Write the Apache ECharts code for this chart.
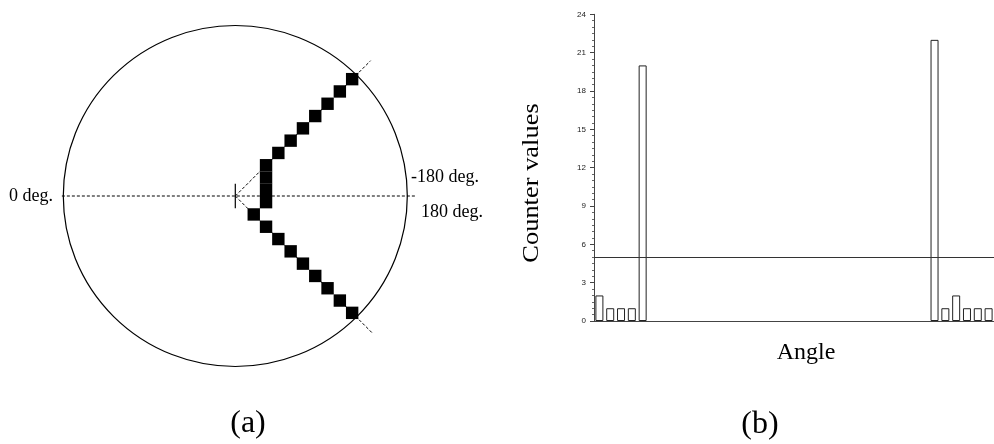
<!DOCTYPE html>
<html>
<head>
<meta charset="utf-8">
<script src="https://cdn.jsdelivr.net/npm/echarts@6/dist/echarts.min.js"></script>
<style>
  html, body { margin: 0; padding: 0; background: #fff; }
  #chart { width: 994px; height: 444px; }
</style>
</head>
<body>
<div id="chart"></div>
<script>
// (a) accumulator cells, in cell units with the origin at the cross
const upperArm = [[2.5, 2.5], [3.5, 3.5], [4.5, 4.5], [5.5, 5.5], [6.5, 6.5], [7.5, 7.5], [8.5, 8.5], [9.5, 9.5]];
const columnCells = [[2.5, 1.5], [2.5, 0.5], [2.5, -0.5]];
const lowerArm = [[1.5, -1.5], [2.5, -2.5], [3.5, -3.5], [4.5, -4.5], [5.5, -5.5], [6.5, -6.5], [7.5, -7.5], [8.5, -8.5], [9.5, -9.5]];
const zeroLine = [[-14.1, 0], [14.75, 0]];
const upperRay = [[0, 0], [11, 11]];
const lowerRay = [[0, 0], [11.1, -11.1]];
const crossTick = [[0, -1], [0, 1]];
const circleCenter = [[0, 0]];

// (b) histogram of counter values per angle bin
const angleBins = ['0', '10', '20', '30', '40', '50', '60', '70', '80', '90', '100', '110', '120',
  '130', '140', '150', '160', '170', '180', '190', '200', '210', '220', '230', '240', '250',
  '260', '270', '280', '290', '300', '310', '320', '330', '340', '350', '360'];
const counterValues = [2, 1, 1, 1, 20, 0, 0, 0, 0, 0, 0, 0, 0, 0, 0, 0, 0, 0, 0, 0, 0, 0, 0,
  0, 0, 0, 0, 0, 0, 0, 0, 22, 1, 2, 1, 1, 1];
const threshold = 5;

const serif = 'Liberation Serif';
const chart = echarts.init(document.getElementById('chart'));

const dashed = {color: '#000', width: 1, type: [3, 2]};
// empty bins draw nothing, so the axis line stays clean
const barData = counterValues.map(function (v) { return v === 0 ? null : v; });

const option = {
  animation: false,
  backgroundColor: '#fff',
  grid: [
    {left: 50.8, top: 11.5, width: 369, height: 369},
    {left: 594, top: 14.3, width: 402, bottom: 123}
  ],
  xAxis: [
    {type: 'value', gridIndex: 0, min: -15, max: 15, show: false},
    {
      type: 'category', gridIndex: 1, data: angleBins, boundaryGap: true,
      axisLine: {lineStyle: {color: '#444', width: 1}},
      axisTick: {show: false},
      axisLabel: {show: false}
    }
  ],
  yAxis: [
    {type: 'value', gridIndex: 0, min: -15, max: 15, show: false},
    {
      type: 'value', gridIndex: 1, min: 0, max: 24, interval: 3,
      axisLine: {show: true, lineStyle: {color: '#444', width: 1}},
      axisTick: {show: true, length: 4, lineStyle: {color: '#444'}},
      minorTick: {show: true, splitNumber: 6, length: 2, lineStyle: {color: '#666'}},
      splitLine: {show: false},
      axisLabel: {fontSize: 8, color: '#222', margin: 8, fontFamily: 'Liberation Sans'}
    }
  ],
  series: [
    {type: 'line', xAxisIndex: 0, yAxisIndex: 0, data: zeroLine, showSymbol: false, lineStyle: dashed, z: 1},
    {type: 'line', xAxisIndex: 0, yAxisIndex: 0, data: upperRay, showSymbol: false, lineStyle: dashed, z: 1},
    {type: 'line', xAxisIndex: 0, yAxisIndex: 0, data: lowerRay, showSymbol: false, lineStyle: dashed, z: 1},
    {type: 'line', xAxisIndex: 0, yAxisIndex: 0, data: crossTick, showSymbol: false,
      lineStyle: {color: '#000', width: 1.2}, z: 2},
    {
      type: 'scatter', xAxisIndex: 0, yAxisIndex: 0, data: circleCenter,
      symbol: 'circle', symbolSize: [344, 341], silent: true,
      itemStyle: {color: 'rgba(0,0,0,0)', borderColor: '#000', borderWidth: 1.2, opacity: 1}, z: 2
    },
    {
      type: 'scatter', xAxisIndex: 0, yAxisIndex: 0,
      data: upperArm.concat(columnCells, lowerArm),
      symbol: 'rect', symbolSize: 12.4,
      itemStyle: {color: '#000', opacity: 1}, z: 3
    },
    {
      type: 'bar', xAxisIndex: 1, yAxisIndex: 1, data: barData, barWidth: 8,
      itemStyle: {color: '#fff', borderColor: '#222', borderWidth: 1},
      markLine: {
        silent: true, symbol: ['none', 'none'], label: {show: false},
        lineStyle: {color: '#333', width: 1, type: 'solid'},
        data: [{yAxis: threshold}]
      }
    }
  ],
  graphic: [
    {type: 'text', x: 53, y: 196, style: {text: '0 deg.', font: '18px "' + serif + '"', fill: '#000', align: 'right', verticalAlign: 'middle'}},
    {type: 'text', x: 411, y: 177, style: {text: '-180 deg.', font: '18px "' + serif + '"', fill: '#000', align: 'left', verticalAlign: 'middle'}},
    {type: 'text', x: 421, y: 212, style: {text: '180 deg.', font: '18px "' + serif + '"', fill: '#000', align: 'left', verticalAlign: 'middle'}},
    {type: 'text', x: 248, y: 424, style: {text: '(a)', font: '32px "' + serif + '"', fill: '#000', align: 'center', verticalAlign: 'middle'}},
    {type: 'text', x: 760, y: 425, style: {text: '(b)', font: '32px "' + serif + '"', fill: '#000', align: 'center', verticalAlign: 'middle'}},
    {type: 'text', x: 806, y: 353, style: {text: 'Angle', font: '24px "' + serif + '"', fill: '#000', align: 'center', verticalAlign: 'middle'}},
    {type: 'text', x: 532, y: 183, rotation: Math.PI / 2, scaleX: 1.15,
      style: {text: 'Counter values', font: '23px "' + serif + '"', fill: '#000', align: 'center', verticalAlign: 'middle'}}
  ]
};

chart.setOption(option);
</script>
</body>
</html>
